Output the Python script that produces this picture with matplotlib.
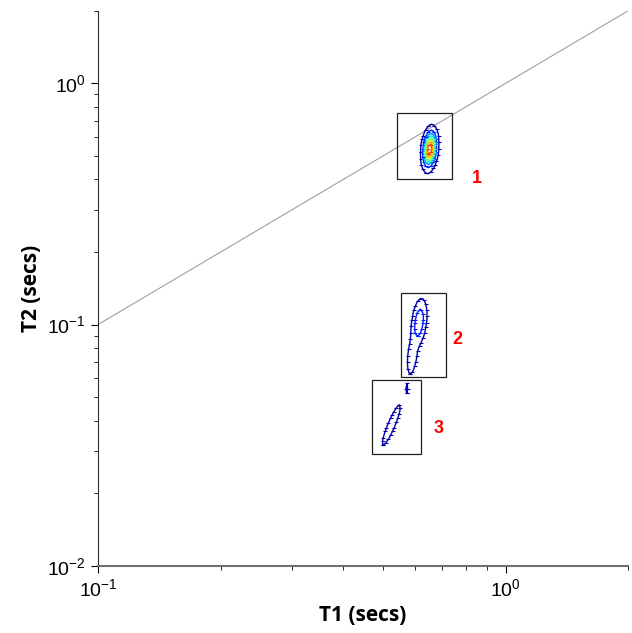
import numpy as np
import matplotlib
matplotlib.use("Agg")
import matplotlib.pyplot as plt
from matplotlib.patches import Rectangle
from matplotlib.ticker import LogLocator

plt.rcParams['font.family'] = ['Liberation Sans', 'DejaVu Sans']
plt.rcParams['mathtext.default'] = 'regular'

# T1-T2 peaks in log10 space: centre, widths, shear (dT1 per dT2), amplitude
peak_cx = [-0.186, -0.212, -0.229, -0.280, -0.244]
peak_cy = [-0.272, -0.990, -1.130, -1.416, -1.263]
peak_sx = [0.0085, 0.009, 0.007, 0.008, 0.003]
peak_sy = [0.040, 0.050, 0.050, 0.072, 0.030]
peak_k = [0.05, 0.06, 0.06, 0.24, 0.0]
peak_amp = [1.0, 0.28, 0.12, 0.08, 0.05]

# regions of interest (T1 range, T2 range) and their labels
box_t1 = [(0.542, 0.738), (0.555, 0.714), (0.469, 0.620)]
box_t2 = [(0.403, 0.753), (0.0605, 0.1355), (0.0292, 0.0589)]
box_names = ['1', '2', '3']
label_pos = [(0.850, 0.403), (0.764, 0.0868), (0.687, 0.037)]

levels = np.linspace(0.04, 0.96, 9)

lx = np.linspace(-1.0, np.log10(2), 200)
ly = np.linspace(-2.0, np.log10(2), 170)
LX, LY = np.meshgrid(lx, ly)
Z = np.zeros_like(LX)
for cx, cy, sx, sy, k, a in zip(peak_cx, peak_cy, peak_sx, peak_sy, peak_k, peak_amp):
    v = LY - cy
    u = LX - cx - k * v
    Z += a * np.exp(-0.5 * ((u / sx) ** 2 + (v / sy) ** 2))

fig = plt.figure(figsize=(6.32, 6.33), dpi=100)
ax = fig.add_axes([0.155, 0.106, 0.839, 0.877])
ax.set_xscale('log')
ax.set_yscale('log')
ax.set_xlim(0.1, 2)
ax.set_ylim(0.01, 2)

# T1 = T2 reference line
ax.plot([0.1, 2], [0.1, 2], color='#a0a0a0', lw=0.8, zorder=1)

cs = ax.contour(10 ** LX, 10 ** LY, Z, levels=levels, cmap='jet',
                vmin=0, vmax=1, linewidths=1.0, zorder=3)
# short hatch marks along each contour
cmap = plt.get_cmap('jet')
for lev, segs in zip(cs.levels, cs.allsegs):
    for seg in segs:
        if len(seg) < 2:
            continue
        ax.plot(seg[::2, 0], seg[::2, 1], ls='none', marker='_',
                ms=3.5, mew=0.8, color=cmap(lev), zorder=3)

for (x0, x1), (y0, y1), name, (tx, ty) in zip(box_t1, box_t2, box_names, label_pos):
    ax.add_patch(Rectangle((x0, y0), x1 - x0, y1 - y0, fill=False,
                           ec='#202020', lw=0.9, zorder=4))
    ax.text(tx, ty, name, color='red', fontsize=13, fontweight='bold',
            ha='center', va='center')

for side in ['top', 'right']:
    ax.spines[side].set_visible(False)
ax.spines['left'].set_color('#303030')
ax.spines['bottom'].set_color('#707070')
ax.spines['bottom'].set_linewidth(1.5)

ax.xaxis.set_major_locator(LogLocator(base=10))
ax.yaxis.set_major_locator(LogLocator(base=10))
ax.tick_params(which='major', direction='out', length=5, labelsize=14)
ax.tick_params(which='minor', direction='out', length=3)

ax.set_xlabel('T1 (secs)', family='Open Sans', fontweight='bold', fontsize=15)
ax.set_ylabel('T2 (secs)', family='Open Sans', fontweight='bold', fontsize=15)

fig.savefig('out.png', dpi=100)
